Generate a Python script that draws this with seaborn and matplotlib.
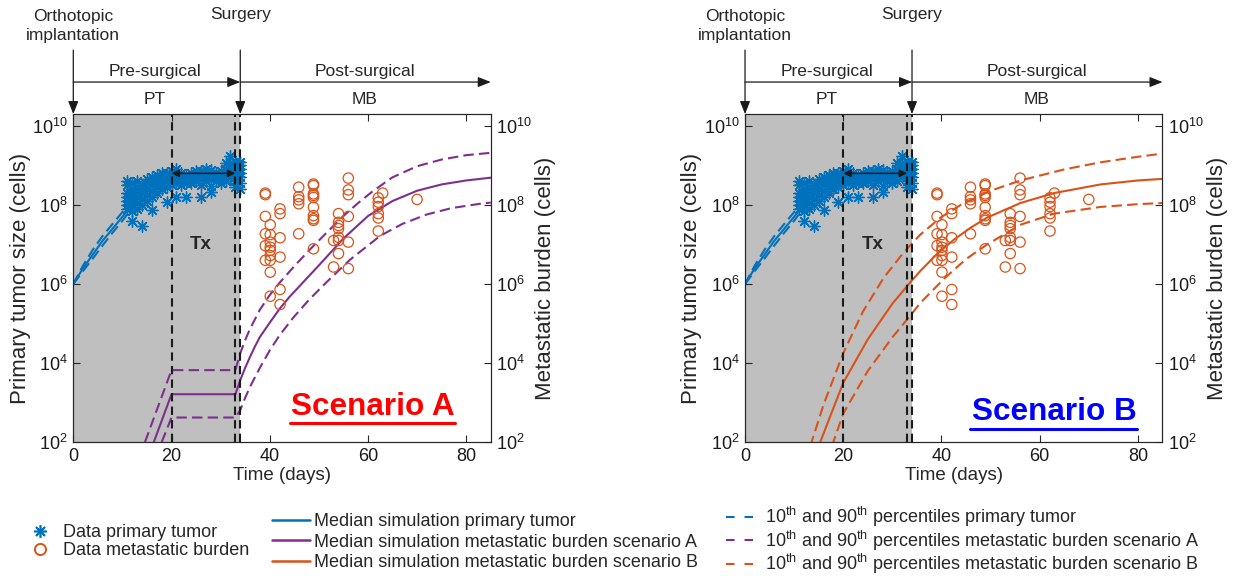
import numpy as np
import pandas as pd
import matplotlib
matplotlib.use("Agg")
import matplotlib.pyplot as plt
import matplotlib.transforms as mtransforms
from matplotlib.lines import Line2D
from matplotlib.ticker import FixedLocator, LogFormatterSciNotation, NullLocator
import seaborn as sns

# ---------------- data (values are log10 of cell counts) ----------------
pt_days = ([11]*7 + [12]*8 + [13]*6 + [14]*6 + [15]*5 + [16]*6 + [17]*5 + [18]*4 +
           [19]*5 + [20]*4 + [21]*5 + [22]*4 + [23]*4 + [24]*4 + [25]*4 + [26]*5 +
           [27]*4 + [28]*5 + [29]*3 + [30]*4 + [31]*4 + [32]*4 + [33]*7 + [34]*7)
pt_log = [7.9, 8.0, 8.1, 8.2, 8.3, 8.5, 8.6,
          7.6, 7.85, 8.0, 8.1, 8.2, 8.3, 8.4, 8.55,
          7.9, 8.05, 8.2, 8.3, 8.45, 8.6,
          7.48, 8.0, 8.15, 8.3, 8.4, 8.5,
          8.1, 8.25, 8.4, 8.55, 8.65,
          7.86, 8.19, 8.35, 8.5, 8.6, 8.7,
          8.3, 8.45, 8.55, 8.65, 8.75,
          8.4, 8.55, 8.65, 8.8,
          8.07, 8.45, 8.6, 8.7, 8.8,
          8.5, 8.6, 8.7, 8.85,
          8.19, 8.55, 8.65, 8.75, 8.9,
          8.5, 8.6, 8.7, 8.8,
          8.19, 8.55, 8.65, 8.75,
          8.55, 8.65, 8.72, 8.8,
          8.6, 8.7, 8.78, 8.85,
          8.19, 8.5, 8.65, 8.75, 8.85,
          8.6, 8.7, 8.8, 8.9,
          8.32, 8.49, 8.65, 8.75, 8.88,
          8.6, 8.7, 8.8,
          8.55, 8.65, 8.75, 8.85,
          8.6, 8.75, 8.9, 9.05,
          8.7, 9.25, 8.9, 9.0,
          8.45, 8.6, 8.7, 8.8, 8.9, 9.0, 9.1,
          8.4, 8.55, 8.7, 8.8, 8.9, 9.0, 9.1]

mb_days = ([39.1]*6 + [40.1]*9 + [42.1]*6 + [45.9]*5 + [48.9]*10 + [54.0]*7 +
           [53.0]*2 + [56.0]*6 + [62.1]*6 + [63.0, 70.0])
mb_log = [8.26, 8.30, 7.71, 7.27, 6.97, 6.60,
          7.50, 7.25, 7.06, 6.93, 6.85, 6.72, 6.60, 6.30, 5.69,
          7.90, 7.78, 7.17, 6.68, 5.86, 5.48,
          8.45, 8.21, 8.13, 8.03, 7.27,
          8.53, 8.49, 8.28, 8.24, 8.19, 7.94, 7.73, 7.65, 7.61, 6.89,
          7.78, 7.56, 7.48, 7.40, 7.18, 7.10, 6.77,
          7.10, 6.43,
          8.68, 8.38, 8.26, 7.71, 7.06, 6.39,
          8.18, 8.07, 7.96, 7.78, 7.67, 7.34,
          8.30, 8.14]

# primary tumour simulation
pt_sim_t = [0, 2, 4, 6, 8, 10, 11.5]
pt_sim_med = [6.0, 6.4, 6.75, 7.1, 7.4, 7.7, 7.95]
pt_sim_p90 = [6.0, 6.47, 6.87, 7.22, 7.52, 7.82, 8.05]
pt_sim_p10 = [6.0, 6.33, 6.65, 6.98, 7.3, 7.6, 7.85]

# scenario A (metastatic burden)
a_med_t = [16.4, 20, 33, 34, 35, 36, 37, 38, 40, 42, 44, 47, 50, 55, 60, 65, 70, 75, 80, 85]
a_med_v = [2.0, 3.21, 3.21, 3.57, 3.88, 4.16, 4.42, 4.66, 5.02, 5.37, 5.67, 6.07, 6.47,
           7.15, 7.72, 8.1, 8.36, 8.52, 8.62, 8.69]
a_p90_t = [14.6, 20, 33, 34, 35, 36, 38, 40, 42, 45, 48, 51.6, 55, 58, 61, 65, 70, 75, 80, 85]
a_p90_v = [2.0, 3.82, 3.82, 4.25, 4.58, 4.87, 5.35, 5.72, 6.03, 6.45, 6.85, 7.3, 7.72,
           8.05, 8.35, 8.7, 8.98, 9.15, 9.26, 9.32]
a_p10_t = [18, 20, 33, 34, 35, 36, 38, 40, 42, 44.8, 48, 51.6, 56.4, 62.5, 67, 72, 77, 82.8, 85]
a_p10_v = [2.0, 2.62, 2.62, 2.81, 3.12, 3.4, 3.88, 4.32, 4.7, 5.15, 5.6, 6.05, 6.62, 7.22,
           7.52, 7.76, 7.92, 8.03, 8.06]

# scenario B (metastatic burden)
b_med_t = [15, 20, 25, 30, 33.7, 35.7, 39, 42.5, 46, 49.3, 56.1, 62.9, 72.4, 80, 85]
b_med_v = [1.9, 3.5, 4.6, 5.5, 6.05, 6.33, 6.75, 7.12, 7.43, 7.68, 8.05, 8.3, 8.52, 8.62, 8.66]
b_p90_t = [13.3, 16, 20, 24, 28.2, 32.3, 35.7, 39.8, 43.9, 50, 56.1, 65, 72.4, 80, 85]
b_p90_v = [1.9, 2.95, 4.25, 5.3, 6.15, 6.8, 7.25, 7.68, 8.0, 8.36, 8.62, 8.9, 9.08, 9.22, 9.3]
b_p10_t = [17.7, 20, 25, 30, 33, 35.7, 40.5, 45, 49.3, 56.1, 62.9, 72.4, 80, 85]
b_p10_v = [1.9, 2.72, 3.8, 4.65, 5.1, 5.52, 6.13, 6.63, 7.0, 7.5, 7.78, 7.95, 8.02, 8.05]

tx_start, tx_end, tx_level = 20, 33, 8.8
surgery_lines = [20, 33, 34]
presurg_end = 34
x_max = 85
y_ticks_log = [2, 4, 6, 8, 10]

legend_data = ["Data primary tumor", "Data metastatic burden"]
legend_med = ["Median simulation primary tumor",
              "Median simulation metastatic burden scenario A",
              "Median simulation metastatic burden scenario B"]
legend_pct = [r"10$^{\mathrm{th}}$ and 90$^{\mathrm{th}}$ percentiles primary tumor",
              r"10$^{\mathrm{th}}$ and 90$^{\mathrm{th}}$ percentiles metastatic burden scenario A",
              r"10$^{\mathrm{th}}$ and 90$^{\mathrm{th}}$ percentiles metastatic burden scenario B"]

# ---------------- style ----------------
sns.set_theme(style="ticks")
plt.rcParams['font.family'] = ['Liberation Sans', 'DejaVu Sans']
plt.rcParams['mathtext.fontset'] = 'custom'
plt.rcParams['mathtext.rm'] = 'Liberation Sans'
plt.rcParams['mathtext.it'] = 'Liberation Sans:italic'
plt.rcParams['mathtext.bf'] = 'Liberation Sans:bold'

LEG_FS = 13.0
BLUE = "#0072BD"
ORANGE = "#D95319"
PURPLE = "#7E2F8E"
GREY = "#BFBFBF"
AXC = "#262626"
DASH = (0, (5, 2.5))
STAR = (8, 2, 0)

fig = plt.figure(figsize=(12.38, 5.76), dpi=100)

def lin(ax, t, v, color, ls="-", lw=1.5):
    df = pd.DataFrame({"t": t, "v": 10.0 ** np.asarray(v)})
    sns.lineplot(data=df, x="t", y="v", ax=ax, color=color, lw=lw, linestyle=ls,
                 estimator=None, sort=False, zorder=3)

def panel(left, med, p90, p10, color, label, label_color, label_pos, uline):
    ax = fig.add_axes([left, 0.2326, 0.3372, 0.5694])
    ax.set_yscale("log")
    ax.axvspan(0, presurg_end, color=GREY, lw=0, zorder=0)

    lin(ax, pt_sim_t, pt_sim_med, BLUE)
    lin(ax, pt_sim_t, pt_sim_p90, BLUE, DASH)
    lin(ax, pt_sim_t, pt_sim_p10, BLUE, DASH)

    sns.scatterplot(x=pt_days, y=10.0 ** np.asarray(pt_log), ax=ax, marker=STAR,
                    color=BLUE, s=65, linewidth=1.0, zorder=4)
    sns.scatterplot(x=mb_days, y=10.0 ** np.asarray(mb_log), ax=ax, marker="o",
                    facecolor="none", edgecolor=ORANGE, s=55, linewidth=0.9, zorder=4)

    lin(ax, med[0], med[1], color)
    lin(ax, p90[0], p90[1], color, DASH)
    lin(ax, p10[0], p10[1], color, DASH)

    for xv in surgery_lines:
        ax.axvline(xv, color="k", lw=1.5, ls=(0, (4, 2.5)), zorder=5)

    ax.annotate("", xy=(tx_end, 10 ** tx_level), xytext=(tx_start, 10 ** tx_level),
                arrowprops=dict(arrowstyle="<|-|>", color="k", lw=1.1,
                                mutation_scale=11, shrinkA=0, shrinkB=0), zorder=6)
    ax.text(26, 10 ** 7.0, "Tx", fontsize=13.5, weight="bold", ha="center", va="center", zorder=6)

    ax.set_xlim(0, x_max)
    ax.set_ylim(1e2, 2e10)
    ax.set_xticks([0, 20, 40, 60, 80])
    ax.yaxis.set_major_locator(FixedLocator([10.0 ** k for k in y_ticks_log]))
    ax.yaxis.set_major_formatter(LogFormatterSciNotation())
    ax.yaxis.set_minor_locator(NullLocator())
    ax.tick_params(direction="in", top=True, right=False, length=5, width=0.8,
                   labelsize=13, colors=AXC, labelcolor="k", pad=4)
    ax.set_xlabel("Time (days)", fontsize=13.5, labelpad=2)
    ax.set_ylabel("Primary tumor size (cells)", fontsize=16, labelpad=1)
    for sp in ax.spines.values():
        sp.set_visible(True)
        sp.set_color(AXC)
        sp.set_linewidth(0.8)

    ax2 = ax.twinx()
    ax2.set_yscale("log")
    ax2.set_ylim(1e2, 2e10)
    ax2.yaxis.set_major_locator(FixedLocator([10.0 ** k for k in y_ticks_log]))
    ax2.yaxis.set_major_formatter(LogFormatterSciNotation())
    ax2.yaxis.set_minor_locator(NullLocator())
    ax2.tick_params(direction="in", length=5, width=0.8, labelsize=13, colors=AXC,
                    labelcolor="k", pad=4)
    ax2.set_ylabel("Metastatic burden (cells)", fontsize=16, labelpad=2)
    for sp in ax2.spines.values():
        sp.set_color(AXC)
        sp.set_linewidth(0.8)

    # timeline annotations above the axes
    tr = mtransforms.blended_transform_factory(ax.transData, ax.transAxes)
    ap = dict(arrowstyle="-|>,head_length=0.55,head_width=0.22", color="k", lw=0.9,
              mutation_scale=14, shrinkA=0, shrinkB=0)
    ax.annotate("", xy=(presurg_end, 1.0976), xytext=(0, 1.0976), xycoords=tr,
                textcoords=tr, arrowprops=ap, annotation_clip=False)
    ax.annotate("", xy=(x_max, 1.0976), xytext=(presurg_end, 1.0976), xycoords=tr,
                textcoords=tr, arrowprops=ap, annotation_clip=False)
    ax.annotate("", xy=(0, 1.0), xytext=(0, 1.195), xycoords=tr,
                textcoords=tr, arrowprops=ap, annotation_clip=False)
    ax.annotate("", xy=(presurg_end, 1.0), xytext=(presurg_end, 1.195), xycoords=tr,
                textcoords=tr, arrowprops=ap, annotation_clip=False)
    ax.text(0, 1.268, "Orthotopic\nimplantation", transform=tr, ha="center", va="center",
            fontsize=12.5, linespacing=1.3)
    ax.text(presurg_end, 1.302, "Surgery", transform=tr, ha="center", va="center", fontsize=12.5)
    ax.text(16.6, 1.131, "Pre-surgical", transform=tr, ha="center", va="center", fontsize=12.5)
    ax.text(16.6, 1.043, "PT", transform=tr, ha="center", va="center", fontsize=12.5)
    ax.text(59.4, 1.131, "Post-surgical", transform=tr, ha="center", va="center", fontsize=12.5)
    ax.text(59.4, 1.043, "MB", transform=tr, ha="center", va="center", fontsize=12.5)

    ax.text(label_pos[0], 10 ** label_pos[1], label, color=label_color, fontsize=22.7,
            weight="bold", ha="center", va="center", zorder=7)
    ax.add_line(Line2D([uline[0], uline[1]], [uline[2], uline[2]], transform=ax.transAxes,
                       color=label_color, lw=2.2, zorder=7))
    return ax

panel(0.0592, (a_med_t, a_med_v), (a_p90_t, a_p90_v), (a_p10_t, a_p10_v), PURPLE,
      "Scenario A", "#FF0000", (60.9, 2.88), (0.519, 0.9145, 0.058))
panel(0.6018, (b_med_t, b_med_v), (b_p90_t, b_p90_v), (b_p10_t, b_p10_v), ORANGE,
      "Scenario B", "#0000FF", (62.9, 2.75), (0.54, 0.94, 0.04))

W, H = 1238.0, 576.0
h_star = Line2D([], [], ls="none", marker=STAR, color=BLUE, markersize=9, mew=1.2)
h_circ = Line2D([], [], ls="none", marker="o", mfc="none", mec=ORANGE, markersize=8, mew=1.4)
fig.legend([h_star, h_circ], legend_data, loc="upper left",
           bbox_to_anchor=(31 / W, 1 - 524 / H), frameon=False, fontsize=LEG_FS,
           handlelength=1.0, handletextpad=0.75, borderpad=0, borderaxespad=0,
           labelspacing=0.07)
med_handles = [Line2D([], [], color=c, lw=1.8) for c in (BLUE, PURPLE, ORANGE)]
fig.legend(med_handles, legend_med, loc="upper left",
           bbox_to_anchor=(272 / W, 1 - 513 / H), frameon=False, fontsize=LEG_FS,
           handlelength=2.08, handletextpad=0.22, borderpad=0, borderaxespad=0,
           labelspacing=0.2)
pct_handles = [Line2D([], [], color=c, lw=1.5, ls=(0, (4.1, 4.8))) for c in (BLUE, PURPLE, ORANGE)]
fig.legend(pct_handles, legend_pct, loc="upper left",
           bbox_to_anchor=(726 / W, 1 - 505 / H), frameon=False, fontsize=LEG_FS,
           handlelength=1.6, handletextpad=0.55, borderpad=0, borderaxespad=0,
           labelspacing=-0.03)

fig.savefig("out.png", dpi=100)
